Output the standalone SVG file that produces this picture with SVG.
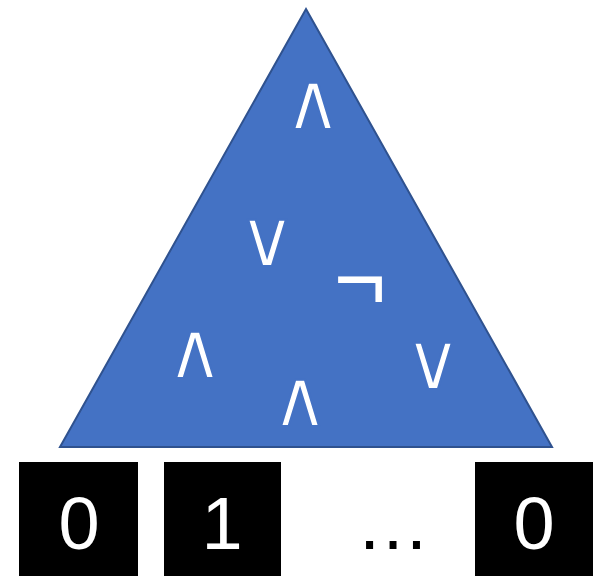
<svg xmlns="http://www.w3.org/2000/svg" width="600" height="576" viewBox="0 0 600 576">
<style>
.op{font-family:"DejaVu Sans",sans-serif;font-size:80px;fill:#fff;stroke:#4472C4;stroke-width:2.2px;text-anchor:middle}
.neg{font-family:"Liberation Sans",Arial,sans-serif;font-size:90px;fill:#fff;text-anchor:middle}
.bit{font-family:"Liberation Sans",Arial,sans-serif;font-size:74px;fill:#fff;text-anchor:middle}
.box{fill:#000}
</style>
<rect width="600" height="576" fill="#fff"/>
<g id="tree">
<polygon points="306,9 552,447 60,447" fill="#4472C4" stroke="#2F528F" stroke-width="2" stroke-linejoin="miter"/>
<text class="op" x="313" y="129">∧</text>
<text class="op" x="267" y="266">∨</text>
<text class="neg" x="360" y="310">¬</text>
<text class="op" x="195" y="378">∧</text>
<text class="op" x="300" y="426">∧</text>
<text class="op" x="433" y="389">∨</text>
</g>
<g id="bit1"><rect class="box" x="19" y="462" width="119" height="114"/><text class="bit" x="79" y="549">0</text></g>
<g id="bit2"><rect class="box" x="164" y="462" width="117" height="114"/><text class="bit" x="222" y="549">1</text></g>
<g id="ellipsis"><text x="393" y="549" font-family="Liberation Sans, Arial, sans-serif" font-size="74" text-anchor="middle" fill="#000">…</text></g>
<g id="bit3"><rect class="box" x="475" y="462" width="118" height="114"/><text class="bit" x="534" y="549">0</text></g>
</svg>
